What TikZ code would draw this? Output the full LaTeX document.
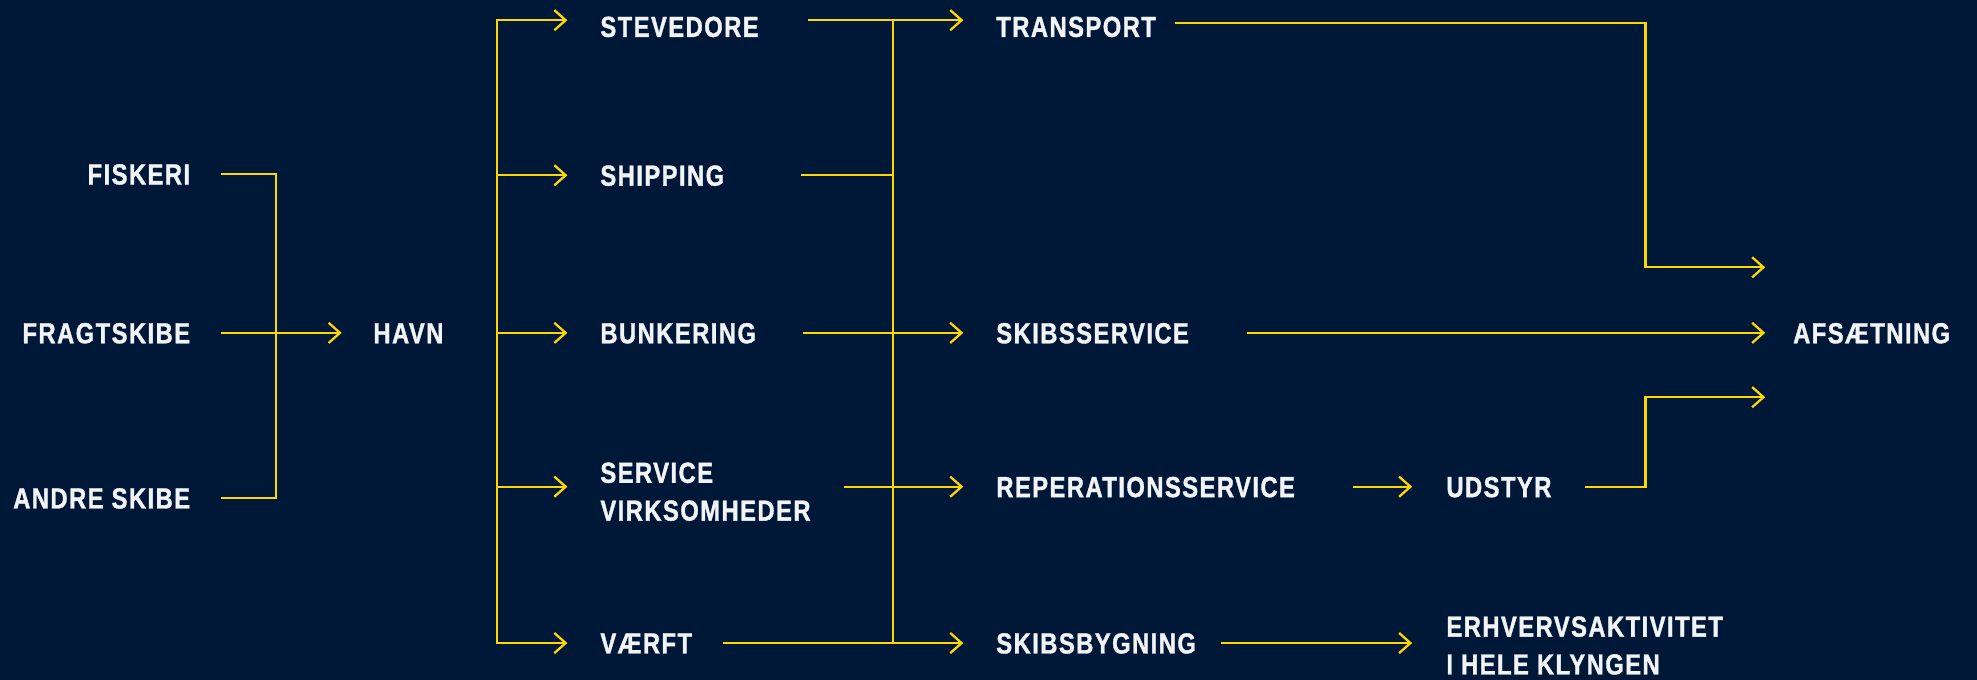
\documentclass[tikz,border=0pt]{standalone}
\usepackage{fontspec}
\newfontfamily\lblfont{Liberation Sans}[FakeStretch=0.82,LetterSpace=5,BoldFeatures={FakeBold=1.2}]
\usetikzlibrary{arrows.meta}

\definecolor{navy}{HTML}{001837}
\definecolor{gold}{HTML}{FFD700}
\definecolor{paper}{HTML}{F2F3F7}

\tikzset{
  lbl/.style={text=paper, font=\lblfont\bfseries\fontsize{23}{30}\selectfont,
    inner sep=0pt, text height=16.5pt, text depth=0pt},
  lblii/.style={text=paper, font=\lblfont\bfseries\fontsize{23}{30}\selectfont,
    inner sep=0pt, align=left},
  link/.style={draw=gold, line width=1.8pt},
  arr/.style={link, -{Straight Barb[length=9pt,width=16pt]}},
}

\begin{document}
\begin{tikzpicture}[x=1pt,y=-1pt]
    \fill[navy] (0,0) rectangle (1568,539);
    \useasboundingbox (0,0) rectangle (1568,539);

    % left column
    \node[lbl, anchor=east] (fiskeri) at (151,138) {FISKERI};
    \node[lbl, anchor=east] (fragt) at (151,264) {FRAGTSKIBE};
    \node[lbl, anchor=east] (andre) at (151,395) {ANDRE SKIBE};
    \node[lbl, anchor=west] (havn) at (296,264) {HAVN};

    % second column
    \node[lbl, anchor=west] (stev) at (476,21) {STEVEDORE};
    \node[lbl, anchor=west] (ship) at (476,139) {SHIPPING};
    \node[lbl, anchor=west] (bunk) at (476,264) {BUNKERING};
    \node[lblii, anchor=west] (serv) at (476,390) {SERVICE\\VIRKSOMHEDER};
    \node[lbl, anchor=west] (vaerft) at (476,510) {VÆRFT};

    % third column
    \node[lbl, anchor=west] (trans) at (790,21) {TRANSPORT};
    \node[lbl, anchor=west] (sksv) at (790,264) {SKIBSSERVICE};
    \node[lbl, anchor=west] (repar) at (790,386) {REPERATIONSSERVICE};
    \node[lbl, anchor=west] (skbyg) at (790,510) {SKIBSBYGNING};

    % fourth column
    \node[lbl, anchor=west] (udstyr) at (1147,386) {UDSTYR};
    \node[lblii, anchor=west] (erhv) at (1147,512) {ERHVERVSAKTIVITET\\I HELE KLYNGEN};
    \node[lbl, anchor=west] (afs) at (1422,264) {AFSÆTNING};

    % junctions
    \coordinate (jl) at (219,264);
    \coordinate (hub) at (394,264);
    \coordinate (busTop) at (708,16);
    \coordinate (busBot) at (708,510);
    \coordinate (kA) at (1305,212);
    \coordinate (kB) at (1305,315);

    % into the harbour
    \draw[link] ([xshift=24]fiskeri.east) -| (jl) |- ([xshift=24]andre.east);
    \draw[arr] ([xshift=24]fragt.east) -- ([xshift=-25]havn.west);

    % harbour branches
    \foreach \n/\dy in {stev/5, ship/0, bunk/0, serv/4, vaerft/0}
        \draw[arr] (hub) |- ([xshift=-26,yshift=\dy]\n.west);

    % bus
    \draw[link] (busTop) -- (busBot);
    \draw[arr] ([xshift=39,yshift=5]stev.east) -- ([xshift=-26,yshift=5]trans.west);
    \draw[link] ([xshift=61]ship.east) -- (ship.east -| busTop);
    \draw[arr] ([xshift=37]bunk.east) -- ([xshift=-26]sksv.west);
    \draw[arr] ([xshift=26,yshift=4]serv.east) -- ([xshift=-26]repar.west);
    \draw[arr] ([xshift=24]vaerft.east) -- ([xshift=-26]skbyg.west);

    % towards sales
    \draw[arr] ([xshift=15,yshift=3]trans.east) -| (kA) -- ([xshift=-22,yshift=52]afs.west);
    \draw[arr] ([xshift=46]sksv.east) -- ([xshift=-22]afs.west);
    \draw[arr] ([xshift=46]repar.east) -- ([xshift=-27]udstyr.west);
    \draw[arr] ([xshift=26]udstyr.east) -| (kB) -- ([xshift=-22,yshift=-51]afs.west);
    \draw[arr] ([xshift=20]skbyg.east) -- ([xshift=-27,yshift=2]erhv.west);
\end{tikzpicture}
\end{document}
